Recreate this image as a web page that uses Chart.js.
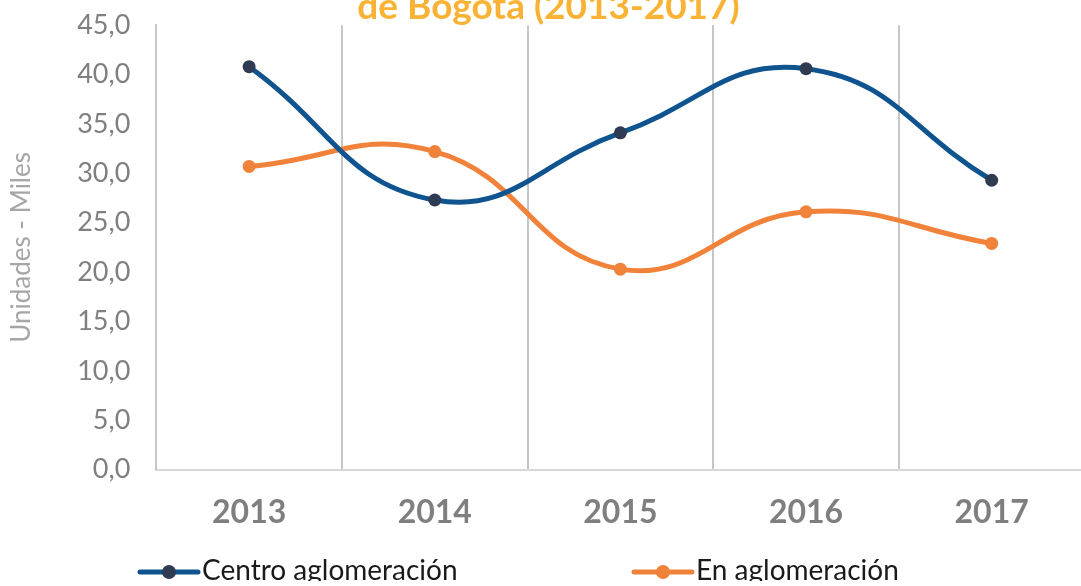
<!DOCTYPE html>
<html>
<head>
<meta charset="utf-8">
<script src="https://cdn.jsdelivr.net/npm/chart.js@4.4.1/dist/chart.umd.min.js"></script>
<style>
    html, body { margin: 0; padding: 0; background: #ffffff; overflow: hidden; }
    #frame { position: relative; width: 1081px; height: 586px; overflow: hidden; }
    #box { position: absolute; left: 0; top: -17px; width: 1091px; height: 598px; }
</style>
</head>
<body>
<div id="frame">
    <div id="box"><canvas id="ventasChart"></canvas></div>
</div>
<script>
const years = ["2013", "2014", "2015", "2016", "2017"];
const centroValues = [40.8, 27.3, 34.1, 40.6, 29.3];
const enValues = [30.7, 32.2, 20.3, 26.1, 22.9];
const yTicks = [0, 5, 10, 15, 20, 25, 30, 35, 40, 45];

const fontFamily = "Lato, 'Open Sans', sans-serif";
const blue = "#0F548F";
const navyDot = "#2F3B52";
const orange = "#F0823A";

// legend drawn by hand: line with a dot, then the label (Excel style, wide gap)
const bottomLegend = {
    id: "bottomLegend",
    afterDraw(chart) {
        const ctx = chart.ctx;
        const y = chart.height - 9;
        const startX = [138, 632];
        ctx.save();
        chart.data.datasets.forEach((ds, i) => {
            const x = startX[i];
            ctx.strokeStyle = ds.borderColor;
            ctx.lineWidth = 5;
            ctx.lineCap = "round";
            ctx.beginPath();
            ctx.moveTo(x + 2, y);
            ctx.lineTo(x + 60, y);
            ctx.stroke();
            ctx.fillStyle = ds.pointBackgroundColor;
            ctx.beginPath();
            ctx.arc(x + 31, y, 7, 0, Math.PI * 2);
            ctx.fill();
            ctx.fillStyle = "#1a1a1a";
            ctx.font = "28px " + fontFamily;
            ctx.textBaseline = "middle";
            ctx.textAlign = "left";
            ctx.fillText(ds.label, x + 64, y - 1);
        });
        ctx.restore();
    }
};

new Chart(document.getElementById("ventasChart"), {
    type: "line",
    data: {
        labels: years,
        datasets: [{
            label: "Centro aglomeración",
            data: centroValues,
            borderColor: blue,
            backgroundColor: blue,
            borderWidth: 5,
            pointRadius: 6.5,
            pointBackgroundColor: navyDot,
            pointBorderWidth: 0,
            tension: 0.45
        }, {
            label: "En aglomeración",
            data: enValues,
            borderColor: orange,
            backgroundColor: orange,
            borderWidth: 5,
            pointRadius: 6.5,
            pointBackgroundColor: orange,
            pointBorderWidth: 0,
            tension: 0.45
        }]
    },
    plugins: [bottomLegend],
    options: {
        responsive: true,
        maintainAspectRatio: false,
        animation: false,
        layout: { padding: { left: 6, right: 0, top: 0, bottom: 25 } },
        plugins: {
            title: {
                display: true,
                text: "de Bogotá (2013-2017)",
                color: "#F9B233",
                font: { family: fontFamily, size: 37, weight: "bold", lineHeight: 1 },
                padding: { top: 0, bottom: 0 }
            },
            legend: { display: false },
            tooltip: { enabled: false }
        },
        scales: {
            x: {
                offset: true,
                grid: {
                    offset: true,
                    color: "#C6C6C6",
                    lineWidth: 2,
                    drawTicks: false
                },
                border: { color: "#D9D9D9", width: 2 },
                ticks: {
                    color: "#7F7F7F",
                    padding: 24,
                    font: { family: fontFamily, size: 32, weight: "bold" }
                }
            },
            y: {
                min: 0,
                max: 45,
                afterBuildTicks: axis => { axis.ticks = yTicks.map(v => ({ value: v })); },
                grid: { display: false, drawTicks: false },
                border: { color: "#C6C6C6", width: 2 },
                title: {
                    display: true,
                    text: "Unidades - Miles",
                    color: "#A6A6A6",
                    font: { family: fontFamily, size: 26 },
                    padding: { top: 0, bottom: 14 }
                },
                ticks: {
                    autoSkip: false,
                    color: "#7F7F7F",
                    padding: 26,
                    font: { family: fontFamily, size: 27 },
                    callback: value => value.toFixed(1).replace(".", ",")
                }
            }
        }
    }
});
</script>
</body>
</html>
